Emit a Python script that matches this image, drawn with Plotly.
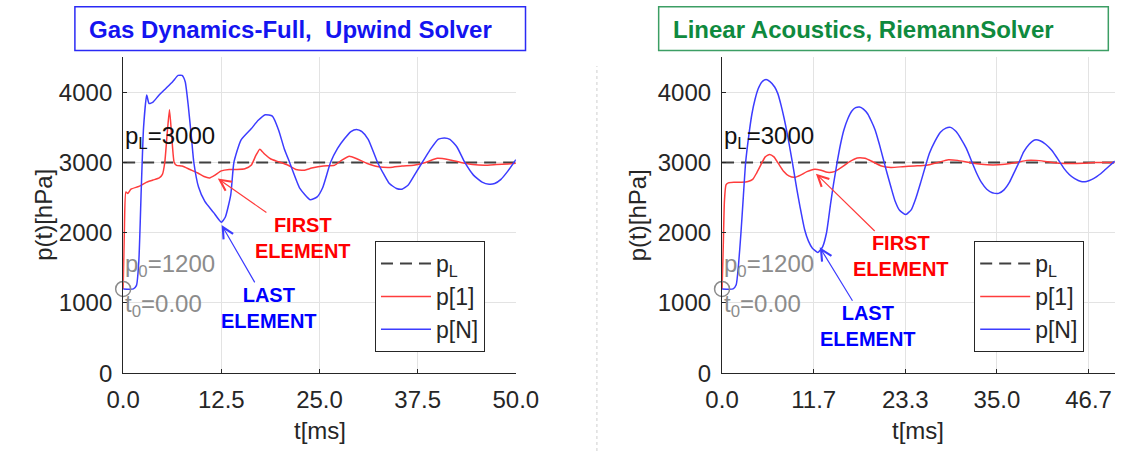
import plotly.graph_objects as go

# ---- Gas dynamics (full), upwind solver ----
gas_t_last = [0, 1.3, 1.7, 2.0, 2.3, 2.6, 3.0, 3.3, 3.8, 4.5, 5.4, 6.3, 7.0, 7.5, 7.9, 8.3,
              8.7, 9.0, 9.6, 10.4, 11.5, 12.5, 13.0, 13.7, 14.1, 15.0, 16.3, 17.2, 18.1,
              19.0, 19.8, 20.5, 21.2, 22.5, 23.8, 24.7, 25.4, 26.4, 27.3, 28.2, 29.0, 29.7,
              30.4, 31.2, 32.4, 33.2, 33.9, 34.8, 35.5, 36.3, 37.3, 38.3, 39.2, 40.1, 40.9,
              41.6, 42.5, 43.5, 44.6, 45.7, 46.6, 47.3, 48.1, 49.0, 50.0]
gas_p_last = [1200, 1200, 1250, 1600, 2600, 3500, 3960, 3840, 3860, 3950, 4050, 4150, 4240,
              4240, 4150, 3800, 3350, 3000, 2650, 2445, 2290, 2150, 2220, 2540, 3000, 3320,
              3480, 3600, 3680, 3660, 3460, 3200, 3000, 2630, 2470, 2510, 2640, 3000, 3200,
              3340, 3440, 3470, 3440, 3330, 3000, 2830, 2700, 2630, 2620, 2680, 2860, 3040,
              3200, 3330, 3350, 3330, 3220, 3000, 2820, 2720, 2690, 2700, 2760, 2880, 3040]

gas_t_first = [0, 0.15, 0.35, 0.6, 1.0, 2.0, 3.0, 3.8, 4.6, 5.0, 5.3, 5.6, 5.9, 6.2, 6.5, 6.8,
               7.5, 8.5, 9.5, 10.3, 11.0, 11.7, 12.5, 13.5, 14.5, 15.5, 16.3, 16.9, 17.4,
               18.0, 18.8, 19.8, 21.0, 22.0, 23.0, 24.0, 25.5, 26.9, 27.8, 28.8, 29.8, 31.0,
               32.5, 34.0, 35.5, 37.0, 38.5, 40.0, 41.5, 43.0, 44.5, 46.0, 47.5, 49.0, 50.0]
gas_p_first = [1200, 2000, 2580, 2560, 2620, 2660, 2720, 2750, 2780, 2830, 3000, 3400, 3750,
               3350, 3000, 2960, 2950, 2900, 2850, 2800, 2780, 2820, 2880, 2900, 2900, 2910,
               2960, 3100, 3190, 3120, 3050, 3010, 2960, 2900, 2890, 2920, 2950, 2960, 3030,
               3090, 3050, 2990, 2940, 2930, 2950, 2960, 3000, 3060, 3040, 3000, 2970, 2960,
               2970, 2980, 2990]

# ---- Linear acoustics, Riemann solver ----
ac_t_last = [0, 1.4, 1.8, 2.1, 2.4, 2.7, 3.0, 3.4, 3.8, 4.2, 4.6, 5.1, 5.6, 6.1, 6.7, 7.1,
             7.5, 7.9, 8.3, 8.7, 9.1, 9.5, 9.95, 10.5, 11.0, 11.5, 12.2, 12.8, 13.3, 13.8,
             14.2, 14.65, 15.1, 15.5, 16.0, 16.5, 17.0, 17.5, 18.0, 18.55, 19.0, 19.5, 20.0,
             20.5, 21.0, 21.5, 22.0, 22.6, 23.4, 24.1, 24.7, 25.3, 25.9, 26.4, 27.1, 27.8,
             28.5, 29.1, 29.8, 30.4, 31.1, 31.8, 32.4, 33.0, 33.7, 34.4, 35.2, 35.9, 36.6,
             37.2, 37.8, 38.4, 39.1, 39.8, 40.5, 41.2, 42.0, 42.8, 43.5, 44.2, 44.9, 45.7,
             46.4, 47.1, 47.7, 48.2, 48.8, 49.3, 50.0]
ac_p_last = [1200, 1200, 1260, 1550, 1990, 2500, 3000, 3380, 3690, 3900, 4050, 4150, 4180,
             4150, 4075, 3980, 3820, 3630, 3410, 3160, 2905, 2630, 2355, 2050, 1880, 1780,
             1720, 1800, 2000, 2400, 2700, 3000, 3270, 3460, 3620, 3730, 3780, 3790, 3760,
             3690, 3590, 3460, 3270, 3060, 2850, 2650, 2460, 2320, 2260, 2330, 2500, 2720,
             2950, 3130, 3300, 3430, 3490, 3500, 3440, 3340, 3200, 3010, 2850, 2720, 2620,
             2570, 2560, 2610, 2720, 2860, 3000, 3150, 3260, 3320, 3310, 3260, 3170, 3040,
             2920, 2830, 2770, 2730, 2730, 2760, 2800, 2840, 2900, 2950, 3020]

ac_t_first = [0, 0.15, 0.3, 0.5, 0.8, 1.5, 2.5, 3.3, 3.9, 4.4, 5.0, 5.5, 6.05, 6.6, 7.2, 7.8,
              8.5, 9.3, 10.0, 10.8, 11.8, 12.6, 13.4, 14.3, 15.2, 16.2, 17.2, 18.2, 19.2,
              20.3, 21.5, 23.0, 24.5, 26.0, 27.5, 28.8, 30.0, 31.5, 33.0, 34.5, 36.0, 37.5,
              38.8, 40.0, 41.5, 43.0, 44.5, 46.0, 47.5, 49.0, 50.0]
ac_p_first = [1200, 1800, 2450, 2680, 2710, 2720, 2720, 2730, 2760, 2850, 2980, 3080, 3115,
              3080, 2980, 2880, 2810, 2790, 2820, 2870, 2905, 2890, 2860, 2870, 2930, 3010,
              3065, 3060, 3010, 2950, 2930, 2940, 2950, 2960, 3000, 3040, 3030, 3000, 2975,
              2965, 2975, 3000, 3030, 3030, 3010, 2990, 2985, 2990, 3000, 3000, 3000]

p_L = 3000
p_0 = 1200
t_0 = 0.0
t_end = 50.0

gas_ticks = [0.0, 12.5, 25.0, 37.5, 50.0]
gas_ticktext = ["0.0", "12.5", "25.0", "37.5", "50.0"]
ac_ticks = [0.0, 11.6667, 23.3333, 35.0, 46.6667]
ac_ticktext = ["0.0", "11.7", "23.3", "35.0", "46.7"]
p_ticks = [0, 1000, 2000, 3000, 4000]

titles = ["Gas Dynamics-Full,\u00a0 Upwind Solver", "Linear Acoustics, RiemannSolver"]

FONT = "Liberation Sans, Arial, Helvetica, sans-serif"
INK = "#262626"
RED = "#ff3c3c"
BLUE = "#3c3cff"
GREY = "#8c8c8c"

W, H = 1140, 464
plot_top, plot_bottom = 58.75, 384
panels = [
    dict(x0=110, x1=517, xa="x", ya="y", leg="legend",
         t_first=gas_t_first, p_first=gas_p_first, t_last=gas_t_last, p_last=gas_p_last,
         title=titles[0], title_col="#1414f0", box_col="#2a2af5", box=(60, 527), title_x=73,
         ytitle_x=28,
         first_txt=(22.87, 1924), first_tip=(12.05, 2772),
         last_txt=(18.63, 931), last_tip=(12.54, 2110),
         legend_x=371),
    dict(x0=730.7, x1=1137.7, xa="x2", ya="y2", leg="legend2",
         t_first=ac_t_first, p_first=ac_p_first, t_last=ac_t_last, p_last=ac_p_last,
         title=titles[1], title_col="#0f8a3e", box_col="#3c9e64", box=(665, 1131), title_x=678,
         ytitle_x=643,
         first_txt=(22.76, 1662), first_tip=(11.95, 2841),
         last_txt=(18.59, 669), last_tip=(12.44, 1793),
         legend_x=992),
]

fig = go.Figure()
annotations = []
shapes = []

for pnl in panels:
    xa, ya, leg = pnl["xa"], pnl["ya"], pnl["leg"]
    fig.add_trace(go.Scatter(x=[0, t_end], y=[p_L, p_L], mode="lines", name="p<sub>L</sub>",
                             line=dict(color="#404040", width=2, dash="12px,7px"),
                             xaxis=xa, yaxis=ya, legend=leg))
    fig.add_trace(go.Scatter(x=pnl["t_first"], y=pnl["p_first"], mode="lines", name="p[1]",
                             line=dict(color=RED, width=1.5, shape="spline", smoothing=0.5),
                             xaxis=xa, yaxis=ya, legend=leg))
    fig.add_trace(go.Scatter(x=pnl["t_last"], y=pnl["p_last"], mode="lines", name="p[N]",
                             line=dict(color=BLUE, width=1.5, shape="spline", smoothing=0.5),
                             xaxis=xa, yaxis=ya, legend=leg))
    fig.add_trace(go.Scatter(x=[t_0], y=[p_0], mode="markers", showlegend=False,
                             marker=dict(symbol="circle-open", size=15, color=GREY,
                                         line=dict(width=1.5, color=GREY)),
                             cliponaxis=False, xaxis=xa, yaxis=ya))

    # panel title box
    bx0, bx1 = pnl["box"]
    shapes.append(dict(type="rect", xref="paper", yref="paper",
                       x0=bx0 / W, x1=bx1 / W, y0=1 - 52 / H, y1=1 - 7 / H,
                       line=dict(color=pnl["box_col"], width=1.5), fillcolor="white"))
    annotations.append(dict(xref="paper", yref="paper", x=pnl["title_x"] / W, y=1 - 30 / H,
                            xanchor="left", yanchor="middle", showarrow=False,
                            text="<b>" + pnl["title"] + "</b>",
                            font=dict(family=FONT, size=24, color=pnl["title_col"])))

    # axis titles
    annotations.append(dict(xref="paper", yref="paper", x=pnl["ytitle_x"] / W,
                            y=1 - 221 / H, textangle=-90, showarrow=False,
                            xanchor="center", yanchor="middle", text="p(t)[hPa]",
                            font=dict(family=FONT, size=24, color=INK)))
    annotations.append(dict(xref="paper", yref="paper", x=(pnl["x0"] + pnl["x1"]) / 2 / W,
                            y=1 - 443 / H, showarrow=False, xanchor="center",
                            yanchor="middle", text="t[ms]",
                            font=dict(family=FONT, size=24, color=INK)))

    # in-plot labels
    annotations.append(dict(xref=xa, yref=ya, x=0, y=3350, xanchor="left", yanchor="middle",
                            showarrow=False, text="p<sub>L</sub>=" + str(p_L),
                            font=dict(family=FONT, size=24, color="#111111")))
    annotations.append(dict(xref=xa, yref=ya, x=0, y=1530, xanchor="left", yanchor="middle",
                            showarrow=False, text="p<sub>0</sub>=" + str(p_0),
                            font=dict(family=FONT, size=24, color=GREY)))
    annotations.append(dict(xref=xa, yref=ya, x=0, y=965, xanchor="left", yanchor="middle",
                            showarrow=False, text="t<sub>0</sub>=" + f"{t_0:.2f}",
                            font=dict(family=FONT, size=24, color=GREY)))

    # element call-outs, each with an arrow from the label to its curve
    for txt, tip, label, tcol, acol in (
            (pnl["first_txt"], pnl["first_tip"], "FIRST", "#ff0000", RED),
            (pnl["last_txt"], pnl["last_tip"], "LAST", "#0000ff", BLUE)):
        annotations.append(dict(xref=xa, yref=ya, axref=xa, ayref=ya,
                                x=tip[0], y=tip[1], ax=txt[0], ay=txt[1],
                                text="<b>" + label + "<br>ELEMENT</b>", align="center",
                                font=dict(family=FONT, size=20, color=tcol),
                                showarrow=True, arrowhead=5, arrowsize=1.8, arrowwidth=1.2,
                                arrowcolor=acol, standoff=0, startstandoff=0))

# separator between the two panels
shapes.append(dict(type="line", xref="paper", yref="paper", x0=601 / W, x1=601 / W,
                   y0=0, y1=1 - 68 / H, line=dict(color="#cfcfcf", width=1, dash="dot")))

axis_common = dict(range=[0, t_end], showgrid=True, gridcolor="#e3e3e3", gridwidth=1,
                   showline=True, linecolor=INK, linewidth=1.2, ticks="inside", ticklen=4,
                   tickcolor=INK, zeroline=False, ticklabelstandoff=5,
                   tickfont=dict(family=FONT, size=24, color=INK))
yaxis_common = dict(range=[0, 4500], tickvals=p_ticks, showgrid=True, gridcolor="#e3e3e3",
                    showline=True, linecolor=INK, linewidth=1.2, ticks="inside", ticklen=4,
                    tickcolor=INK, zeroline=False, ticklabelstandoff=5,
                    tickfont=dict(family=FONT, size=24, color=INK),
                    domain=[1 - plot_bottom / H, 1 - plot_top / H])

legend_common = dict(bgcolor="white", bordercolor=INK, borderwidth=1,
                     font=dict(family=FONT, size=23, color=INK), itemwidth=50,
                     xanchor="left", yanchor="top", y=1 - 248 / H, tracegroupgap=0)

fig.update_layout(
    width=W, height=H, margin=dict(l=0, r=0, t=0, b=0),
    paper_bgcolor="white", plot_bgcolor="white",
    font=dict(family=FONT, color=INK),
    xaxis=dict(axis_common, domain=[panels[0]["x0"] / W, panels[0]["x1"] / W],
               tickvals=gas_ticks, ticktext=gas_ticktext, anchor="y"),
    yaxis=dict(yaxis_common, anchor="x"),
    xaxis2=dict(axis_common, domain=[panels[1]["x0"] / W, panels[1]["x1"] / W],
                tickvals=ac_ticks, ticktext=ac_ticktext, anchor="y2"),
    yaxis2=dict(yaxis_common, anchor="x2"),
    legend=dict(legend_common, x=panels[0]["legend_x"] / W),
    legend2=dict(legend_common, x=panels[1]["legend_x"] / W),
    shapes=shapes,
    annotations=annotations,
    showlegend=True,
)

fig.write_html("out.html")
